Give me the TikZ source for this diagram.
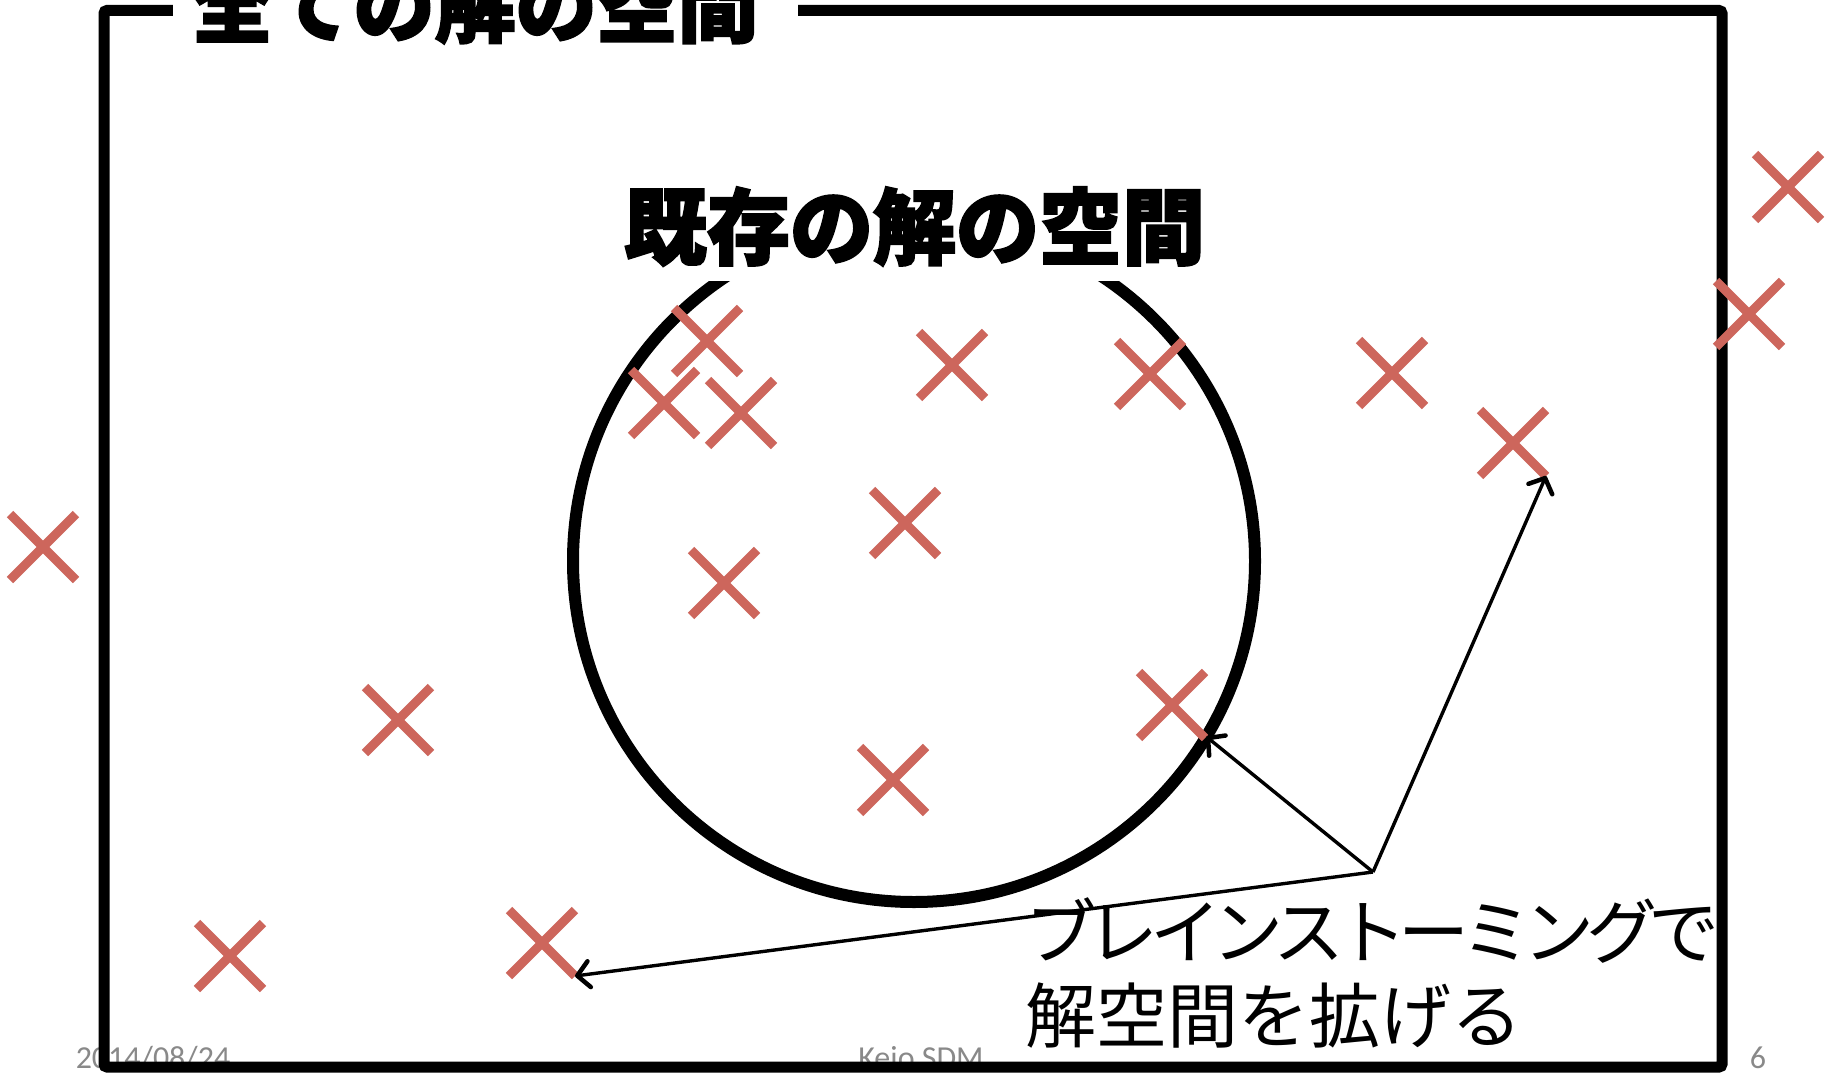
\documentclass[tikz,border=0pt]{standalone}
\usepackage{fontspec}
\newfontfamily\jp{Noto Sans CJK JP}
\newfontfamily\jpheavy{Noto Sans CJK JP}[FakeBold=2.5]
\newfontfamily\footfont{Carlito}
\usetikzlibrary{shapes.misc,arrows.meta,calc}
\definecolor{xred}{RGB}{205,102,92}
\definecolor{footgray}{RGB}{137,137,137}
\begin{document}
\begin{tikzpicture}[x=1pt,y=-1pt,
  xmk/.style={cross out,draw=xred,line width=9pt,minimum size=66pt,inner sep=0pt,outer sep=0pt},
  framebox/.style={draw=black,line width=11pt,rounded corners=3pt,minimum width=1618pt,minimum height=1056.5pt,inner sep=0pt,outer sep=0pt},
  ring/.style={circle,draw=black,line width=12pt,minimum size=682pt,inner sep=0pt,outer sep=0pt},
  ttl/.style={fill=white,anchor=base,text height=72pt,text depth=10pt,inner ysep=13pt},
  arr/.style={draw=black,line width=3.4pt,-{Straight Barb[length=12pt,width=26pt,line width=4.5pt,round]}},
  foot/.style={text=footgray,font=\footfont\fontsize{32}{36}\selectfont,anchor=base,inner sep=0pt},
  note/.style={font=\jp\fontsize{71}{84}\selectfont,anchor=base west,inner sep=0pt}]
\useasboundingbox[fill=white] (0,0) rectangle (1839,1073);
% footer
\node[foot] (date) at (153,1068) {2014/08/24};
\node[foot] (org) at (921,1068) {Keio SDM};
\node[foot] (page) at (1758,1068) {6};
% outer frame
\node[framebox] (frame) at (913,538.75) {};
\node[ttl,inner xsep=19pt,font=\jpheavy\bfseries\fontsize{81}{90}\selectfont] (alltitle) at (485,36) {全ての解の空間\hspace*{20pt}};
% existing solution space
\node[ring] (ring) at (914,561) {};
\node[ttl,inner xsep=4pt,font=\jpheavy\bfseries\fontsize{83}{90}\selectfont] (exttitle) at (914.5,258) {既存の解の空間};
% crosses
\node[xmk] (x1) at (1788,187) {};
\node[xmk] (x2) at (1749,314) {};
\node[xmk] (x3) at (43,547) {};
\node[xmk] (x4) at (707,341) {};
\node[xmk] (x5) at (664,403) {};
\node[xmk] (x6) at (741,413) {};
\node[xmk] (x7) at (952,365) {};
\node[xmk] (x8) at (1150,374) {};
\node[xmk] (x9) at (1392,373) {};
\node[xmk] (x10) at (1513,443) {};
\node[xmk] (x11) at (905,523) {};
\node[xmk] (x12) at (724,583) {};
\node[xmk] (x13) at (398,720) {};
\node[xmk] (x14) at (1172,705) {};
\node[xmk] (x15) at (893,780) {};
\node[xmk] (x16) at (230,956) {};
\node[xmk] (x17) at (542,943) {};
% arrows
\coordinate (src) at (1373,872);
\draw[arr] (src) -- (ring.-31);
\draw[arr] (src) -- (x10.south east);
\draw[arr] (src) -- (x17.south east);
% note
\node[note] (note1) at (1025,958) {\addfontfeatures{LetterSpace=-12}ブレインストーミングで};
\node[note] (note2) at (1025,1042) {解空間を拡げる};
\end{tikzpicture}
\end{document}
